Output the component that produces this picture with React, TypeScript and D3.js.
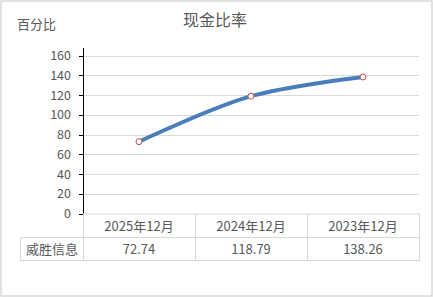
import React from "react";
import * as d3 from "d3";

const categories = ["2025年12月", "2024年12月", "2023年12月"];
const seriesName = "威胜信息";
const values = [72.74, 118.79, 138.26];
const yTicks = [0, 20, 40, 60, 80, 100, 120, 140, 160];
const title = "现金比率";
const yTitle = "百分比";

export default function App() {
  const W = 433, H = 297;
  const left = 83, right = 419;
  const top = 55.5, bottom = 213.5;
  const x = d3.scaleBand<string>().domain(categories).range([left, right]);
  const y = d3.scaleLinear().domain([0, 160]).range([bottom, top]);
  const pts: [number, number][] = values.map((v, i) => [x(categories[i])! + x.bandwidth() / 2, y(v)]);
  const line = d3.line().curve(d3.curveCatmullRom.alpha(0.5))(pts) || "";
  const row1 = bottom + 0.5, row2 = 237, row3 = 260;
  const labelLeft = 20;
  const font = "'Noto Sans CJK SC', 'Liberation Sans', sans-serif";
  const grid = "#d9d9d9";
  const txt = "#595959";
  return (
    <svg width={W} height={H} style={{ position: "absolute", left: 0, top: 0, fontFamily: font }}>
      <rect x={0} y={0} width={W} height={H} fill="#fff" />
      <rect x={1} y={1} width={W - 2} height={H - 2} fill="none" stroke={grid} strokeWidth={1.5} />
      <text x={215} y={26} textAnchor="middle" fontSize={16} fill={txt}>{title}</text>
      <text x={17} y={29} fontSize={13} fill={txt}>{yTitle}</text>
      {yTicks.map(t => (
        <g key={t}>
          {t > 0 && <line x1={left} x2={right} y1={Math.round(y(t)) + 0.5} y2={Math.round(y(t)) + 0.5} stroke={grid} />}
          <line x1={79} x2={left} y1={Math.round(y(t)) + 0.5} y2={Math.round(y(t)) + 0.5} stroke="#000" />
          <text x={71} y={y(t) + 4.5} textAnchor="end" fontSize={12.5} fill={txt}>{t}</text>
        </g>
      ))}
      <line x1={left + 0.5} x2={left + 0.5} y1={48} y2={bottom + 0.5} stroke="#000" />
      {/* table */}
      <line x1={left} x2={right} y1={row1} y2={row1} stroke={grid} />
      <line x1={labelLeft} x2={right} y1={row2 + 0.5} y2={row2 + 0.5} stroke={grid} />
      <line x1={labelLeft} x2={right} y1={row3 + 0.5} y2={row3 + 0.5} stroke={grid} />
      <line x1={labelLeft + 0.5} x2={labelLeft + 0.5} y1={row2} y2={row3 + 1} stroke={grid} />
      {[...categories.map(c => x(c)!), right].map((xx, i) => (
        <line key={i} x1={Math.round(xx) + 0.5} x2={Math.round(xx) + 0.5} y1={row1} y2={row3 + 1} stroke={grid} />
      ))}
      {categories.map((c, i) => (
        <g key={c}>
          <text x={x(c)! + x.bandwidth() / 2} y={231} textAnchor="middle" fontSize={13} fill={txt}>{c}</text>
          <text x={x(c)! + x.bandwidth() / 2} y={254} textAnchor="middle" fontSize={13} fill={txt}>{values[i].toFixed(2)}</text>
        </g>
      ))}
      <text x={(labelLeft + left) / 2 + 0.5} y={254} textAnchor="middle" fontSize={13} fill={txt}>{seriesName}</text>
      <path d={line} fill="none" stroke="#4a7ebb" strokeWidth={4} strokeLinecap="round" />
      {pts.map((p, i) => (
        <circle key={i} cx={p[0]} cy={p[1]} r={3} fill="#fff" stroke="#c0504d" strokeWidth={1} />
      ))}
    </svg>
  );
}
